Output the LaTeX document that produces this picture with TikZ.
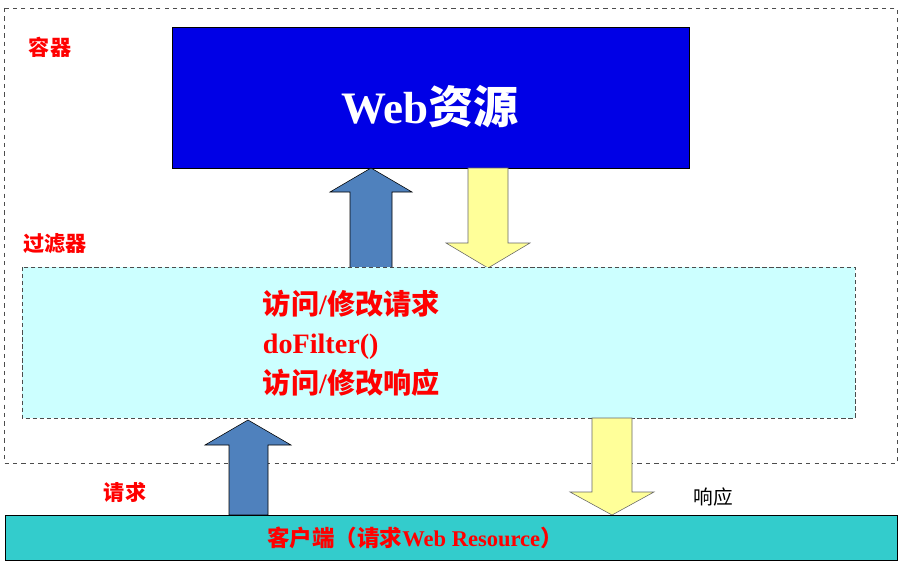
\documentclass[tikz,border=0pt]{standalone}
\usepackage{fontspec}
\setmainfont{Liberation Serif}
\newfontfamily\cjk{Noto Sans CJK SC}
\definecolor{resblue}{RGB}{0,0,230}
\definecolor{upblue}{RGB}{79,129,189}
\definecolor{downyellow}{RGB}{255,255,153}
\definecolor{filtercyan}{RGB}{204,255,255}
\definecolor{clientteal}{RGB}{51,204,204}
\tikzset{
  redlabel/.style={text=red, font=\cjk\fontsize{15}{18}\selectfont\bfseries},
  uparrow/.style={draw=black, fill=upblue},
  downarrow/.style={draw=black!60, fill=downyellow},
}
\begin{document}
\begin{tikzpicture}[x=0.025cm,y=-0.025cm]
    \useasboundingbox (0,0) rectangle (905,565);
    % container
    \draw[black!70, dashed] (4,8) rectangle (897,463);
    \node[redlabel] (container) at (50,47) {容器};
    % web resource
    \draw[black, fill=resblue] (172,27) rectangle (689,168);
    \node[text=white, font=\fontsize{32}{36}\selectfont\bfseries] (web) at (430,107) {Web{\cjk 资源}};
    % arrows between resource and filter
    \draw[uparrow] (350,268) -- (350,192) -- (330,192) -- (371,168) -- (412,192) -- (392,192) -- (392,268) -- cycle;
    \draw[downarrow] (468,168) -- (468,243) -- (446,243) -- (488,268) -- (530,243) -- (508,243) -- (508,168) -- cycle;
    % filter
    \node[redlabel] (filterlabel) at (55,244) {过滤器};
    \draw[black!70, densely dashed, fill=filtercyan] (22,267) rectangle (855,418);
    \node[text=red, font=\fontsize{20}{28}\selectfont\bfseries, anchor=north west, align=left] (filtertext) at (258,285)
      {{\cjk 访问}/{\cjk 修改请求}\\doFilter()\\{\cjk 访问}/{\cjk 修改响应}};
    % arrows between filter and client
    \draw[uparrow] (229,515) -- (229,445) -- (205,445) -- (248,420) -- (291,445) -- (268,445) -- (268,515) -- cycle;
    \draw[downarrow] (592,418) -- (592,492) -- (570,492) -- (612,515) -- (654,492) -- (632,492) -- (632,418) -- cycle;
    \node[redlabel] (request) at (125,492) {请求};
    \node[font=\cjk\fontsize{14}{18}\selectfont] (response) at (713,497) {响应};
    % client
    \draw[black, fill=clientteal] (5,515) rectangle (897,560);
    \node[text=red, font=\fontsize{16}{20}\selectfont\bfseries] (client) at (415,538) {{\cjk 客户端（请求}Web Resource{\cjk ）}};
\end{tikzpicture}
\end{document}
